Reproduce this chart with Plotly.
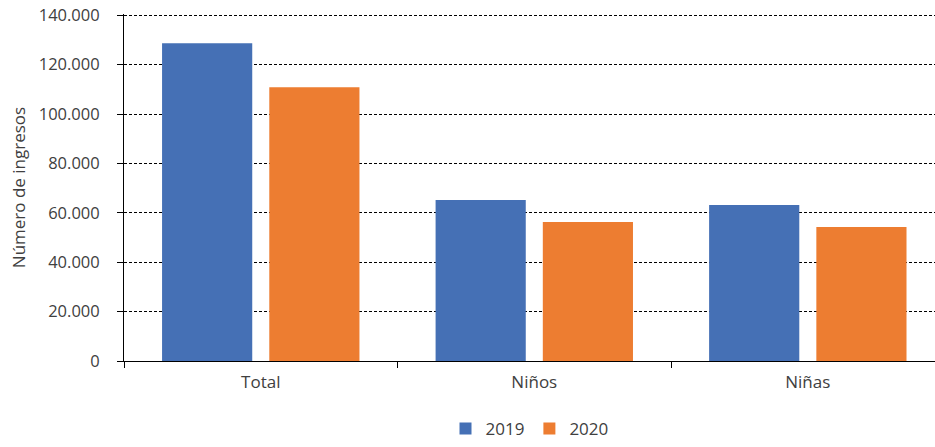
import plotly.graph_objects as go

categories = ["Total", "Niños", "Niñas"]
values_2019 = [128700, 65200, 63200]
values_2020 = [110800, 56300, 54300]
series_names = ["2019", "2020"]
y_ticks = [0, 20000, 40000, 60000, 80000, 100000, 120000, 140000]

colors = ["#4570B5", "#ED7D31"]
font_family = "Open Sans, Noto Sans, sans-serif"
text_color = "#404040"

fig = go.Figure()
for name, vals, col in zip(series_names, [values_2019, values_2020], colors):
    fig.add_trace(go.Bar(
        x=categories, y=vals, name=name,
        marker=dict(color=col, line=dict(width=0)),
    ))

fig.update_layout(
    width=935, height=447,
    margin=dict(l=124, r=0, t=14, b=83),
    paper_bgcolor="white", plot_bgcolor="white",
    barmode="group", bargap=0.216, bargroupgap=0.159,
    separators=",.",
    font=dict(family=font_family, size=17, color=text_color),
    showlegend=True,
    legend=dict(
        orientation="h", x=0.5, xanchor="center", y=-0.197, yanchor="middle",
        font=dict(size=17, color=text_color), itemwidth=30,
        traceorder="normal",
    ),
)

fig.update_xaxes(
    range=[-0.5, 2.465],
    automargin=False,
    showline=True, linecolor="black", linewidth=1,
    ticks="outside", ticklen=6, tickcolor="black", tickwidth=1,
    tickson="boundaries",
    ticklabelstandoff=6,
    showgrid=False,
    tickfont=dict(size=17, color=text_color),
)

fig.update_yaxes(
    range=[0, 140500],
    automargin=False,
    tickvals=y_ticks, tickformat=",d",
    ticklabeloverflow="allow",
    showline=True, linecolor="black", linewidth=1,
    ticks="outside", ticklen=6, tickcolor="black", tickwidth=1,
    ticklabelstandoff=14,
    showgrid=True, gridcolor="black", gridwidth=1, griddash="3px,2px",
    zeroline=False,
    tickfont=dict(size=16.5, color=text_color),
    title=dict(text="Número de ingresos", font=dict(size=17, color=text_color), standoff=8),
)

fig.write_html(
    "out.html",
    config={"displayModeBar": False},
    post_script="document.body.style.margin='0';document.body.style.overflow='hidden';",
)
